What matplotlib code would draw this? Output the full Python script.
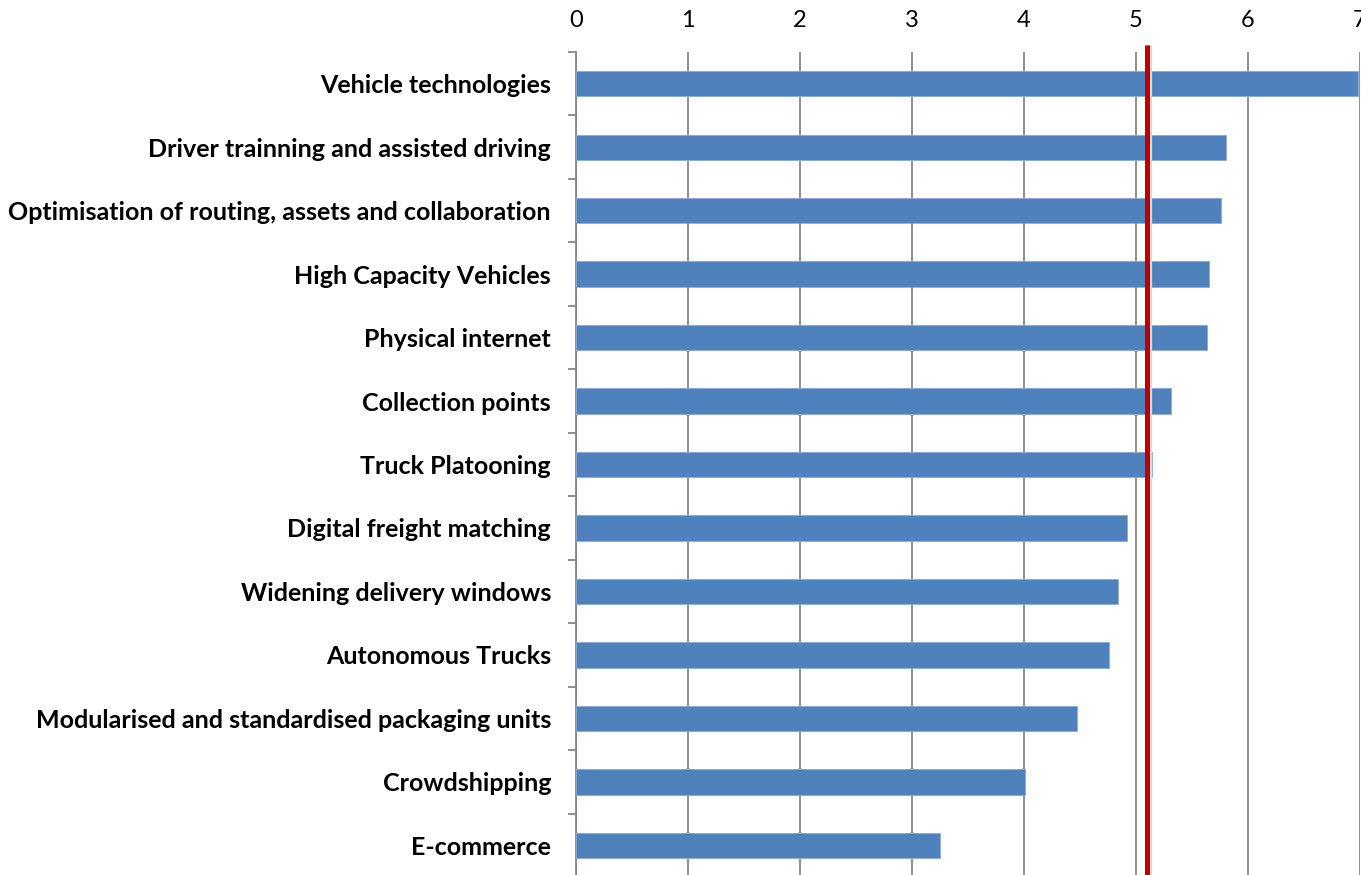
import matplotlib
matplotlib.use("Agg")
import matplotlib.pyplot as plt
import numpy as np

categories = [
    "Vehicle technologies",
    "Driver trainning and assisted driving",
    "Optimisation of routing, assets and collaboration",
    "High Capacity Vehicles",
    "Physical internet",
    "Collection points",
    "Truck Platooning",
    "Digital freight matching",
    "Widening delivery windows",
    "Autonomous Trucks",
    "Modularised and standardised packaging units",
    "Crowdshipping",
    "E-commerce",
]
scores = [6.98, 5.80, 5.76, 5.65, 5.63, 5.31, 5.14, 4.92, 4.84, 4.76, 4.47, 4.01, 3.25]
reference_value = 5.1
x_ticks = [0, 1, 2, 3, 4, 5, 6, 7]

W, H = 1361, 875
fig = plt.figure(figsize=(W / 100, H / 100), dpi=100)
ax = fig.add_axes([576 / W, 1 - 877 / H, (1360 - 576) / W, (877 - 52) / H])

n = len(categories)
y = np.arange(n)
ax.barh(y, scores, height=0.4, color="#4F81BD", edgecolor="#8DAAD6",
        linewidth=0.6, zorder=3)

ax.set_ylim(n - 0.5, -0.5)
ax.set_xlim(0, 7)

# vertical gridlines
ax.set_xticks(x_ticks)
ax.xaxis.grid(True, color="#878787", linewidth=1.3, zorder=1)
ax.xaxis.tick_top()
ax.tick_params(axis="x", length=0, pad=15, labelsize=17, labelcolor="black")
for lab in ax.get_xticklabels():
    lab.set_fontfamily("Lato")

# category labels with tick marks between categories
ax.set_yticks(y)
ax.set_yticklabels(categories, fontsize=18, fontweight="bold", fontfamily="Lato")
ax.set_yticks(np.arange(-0.5, n, 1.0), minor=True)
ax.tick_params(axis="y", which="major", length=0, pad=18)
ax.tick_params(axis="y", which="minor", length=6, width=1.3, color="#878787")

for side in ("top", "right", "bottom"):
    ax.spines[side].set_visible(False)
ax.spines["left"].set_color("#878787")
ax.spines["left"].set_linewidth(1.3)

# reference line
ax.plot([reference_value + 0.014] * 2, [n - 0.5, -0.61], color="#DADADA",
        linewidth=4.5, zorder=4, clip_on=False, solid_capstyle="butt")
ax.plot([reference_value] * 2, [n - 0.5, -0.61], color="#C00000",
        linewidth=3.6, zorder=5, clip_on=False, solid_capstyle="butt")

fig.savefig("out.png", dpi=100)
